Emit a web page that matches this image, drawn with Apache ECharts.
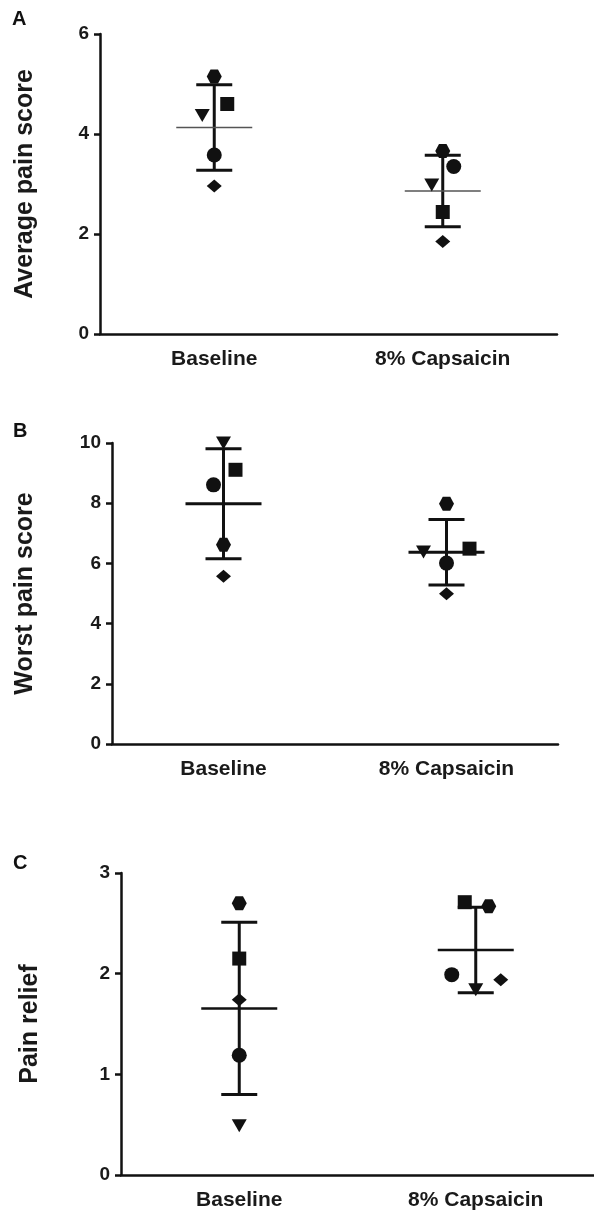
<!DOCTYPE html>
<html>
<head>
<meta charset="utf-8">
<script src="https://cdn.jsdelivr.net/npm/echarts@6/dist/echarts.min.js"></script>
<style>
  html, body { margin: 0; padding: 0; background: #fff; }
  #main { width: 594px; height: 1214px; }
</style>
</head>
<body>
<div id="main"></div>
<script>
// x categories
var groups = ['Baseline', '8% Capsaicin'];

// A - average pain score, one array per subject symbol: [Baseline, 8% Capsaicin]
var avgCircle = [3.58, 3.35];
var avgSquare = [4.6, 2.44];
var avgTriangle = [4.37, 2.98];
var avgHexagon = [5.15, 3.66];
var avgDiamond = [2.96, 1.85];
var avgMean = [4.13, 2.86];
var avgSd = [0.855, 0.715];

// B - worst pain score
var worstCircle = [8.61, 6.01];
var worstSquare = [9.11, 6.49];
var worstTriangle = [10.0, 6.38];
var worstHexagon = [6.62, 7.98];
var worstDiamond = [5.57, 4.99];
var worstMean = [7.98, 6.37];
var worstSd = [1.825, 1.09];

// C - pain relief
var reliefCircle = [1.19, 1.99];
var reliefSquare = [2.15, 2.71];
var reliefTriangle = [0.49, 1.84];
var reliefHexagon = [2.7, 2.67];
var reliefDiamond = [1.74, 1.94];
var reliefMean = [1.655, 2.235];
var reliefSd = [0.855, 0.425];

var FONT = 'Liberation Sans, Arial, Helvetica, sans-serif';
var INK = '#111';

// symbol shapes shared by the three panels
var shapes = {
    circle: { symbol: 'circle', size: 15 },
    square: { symbol: 'rect', size: 14 },
    triangle: { symbol: 'triangle', size: [15, 13], rotate: 180 },
    hexagon: { symbol: 'path://M-1,0L-0.5,-0.87L0.5,-0.87L1,0L0.5,0.87L-0.5,0.87Z', size: [15, 14] },
    diamond: { symbol: 'diamond', size: [15, 13] }
};

// horizontal dodge (px) of overlapping markers, [Baseline, 8% Capsaicin]
var dodgeA = { circle: [0, 11], square: [13, 0], triangle: [-12, -11], hexagon: [0, 0], diamond: [0, 0] };
var dodgeB = { circle: [-10, 0], square: [12, 23], triangle: [0, -23], hexagon: [0, 0], diamond: [0, 0] };
var dodgeC = { circle: [0, -24], square: [0, -11], triangle: [0, 0], hexagon: [0, 13], diamond: [0, 25] };

function meanSdRenderer(meanWidth, meanColor) {
    return function (params, api) {
        var i = api.value(0), m = api.value(1), sd = api.value(2);
        var mid = api.coord([i, m]);
        var hi = api.coord([i, m + sd]);
        var lo = api.coord([i, m - sd]);
        var ink = { stroke: INK, lineWidth: 3 };
        return {
            type: 'group',
            children: [
                { type: 'line', shape: { x1: mid[0], y1: hi[1], x2: mid[0], y2: lo[1] }, style: ink },
                { type: 'line', shape: { x1: mid[0] - 18, y1: hi[1], x2: mid[0] + 18, y2: hi[1] }, style: ink },
                { type: 'line', shape: { x1: mid[0] - 18, y1: lo[1], x2: mid[0] + 18, y2: lo[1] }, style: ink },
                { type: 'line', shape: { x1: mid[0] - 38, y1: mid[1], x2: mid[0] + 38, y2: mid[1] },
                  style: { stroke: meanColor, lineWidth: meanWidth } }
            ]
        };
    };
}

function panelSeries(idx, subjects, dodge, mean, sd, meanWidth, meanColor) {
    var out = [{
        type: 'custom',
        xAxisIndex: idx,
        yAxisIndex: idx,
        renderItem: meanSdRenderer(meanWidth, meanColor),
        data: mean.map(function (m, i) { return [i, m, sd[i]]; }),
        encode: { x: 0, y: 1 },
        z: 2
    }];
    Object.keys(subjects).forEach(function (key) {
        var s = shapes[key];
        out.push({
            type: 'scatter',
            xAxisIndex: idx,
            yAxisIndex: idx,
            symbol: s.symbol,
            symbolSize: s.size,
            symbolRotate: s.rotate || 0,
            itemStyle: { color: INK, opacity: 1 },
            data: subjects[key].map(function (v, i) {
                return { value: [i, v], symbolOffset: [dodge[key][i], 0] };
            }),
            z: 3
        });
    });
    return out;
}

function xAxisFor(idx) {
    return {
        type: 'category',
        gridIndex: idx,
        data: groups,
        boundaryGap: true,
        axisLine: { lineStyle: { color: INK, width: 2.5 } },
        axisTick: { alignWithLabel: true, length: 5, lineStyle: { color: INK, width: 3 } },
        axisLabel: { color: '#1a1a1a', fontFamily: FONT, fontWeight: 'bold', fontSize: 21, margin: 15 },
        splitLine: { show: false }
    };
}

function yAxisFor(idx, name, max, interval, gap) {
    return {
        type: 'value',
        gridIndex: idx,
        min: 0,
        max: max,
        interval: interval,
        name: name,
        nameLocation: 'middle',
        nameRotate: 90,
        nameGap: gap,
        nameTextStyle: { color: '#1a1a1a', fontFamily: FONT, fontWeight: 'bold', fontSize: 25 },
        axisLine: { show: true, lineStyle: { color: INK, width: 2.5 } },
        axisTick: { show: true, length: 6, lineStyle: { color: INK, width: 2.5 } },
        axisLabel: { color: '#1a1a1a', fontFamily: FONT, fontWeight: 'bold', fontSize: 19, margin: 11 },
        splitLine: { show: false }
    };
}

var chart = echarts.init(document.getElementById('main'), null, { renderer: 'canvas' });

var option = {
    backgroundColor: '#fff',
    animation: false,
    grid: [
        { left: 100, top: 34, width: 457, height: 300 },
        { left: 112, top: 443, width: 446, height: 301 },
        { left: 121, top: 873, width: 476, height: 302 }
    ],
    xAxis: [xAxisFor(0), xAxisFor(1), xAxisFor(2)],
    yAxis: [
        yAxisFor(0, 'Average pain score', 6, 2, 62),
        yAxisFor(1, 'Worst pain score', 10, 2, 74),
        yAxisFor(2, 'Pain relief', 3, 1, 78)
    ],
    graphic: [
        { type: 'text', left: 12, top: 9, style: { text: 'A', font: 'bold 20px ' + FONT, fill: INK } },
        { type: 'text', left: 13, top: 421, style: { text: 'B', font: 'bold 20px ' + FONT, fill: INK } },
        { type: 'text', left: 13, top: 853, style: { text: 'C', font: 'bold 20px ' + FONT, fill: INK } }
    ],
    series: [].concat(
        panelSeries(0, { circle: avgCircle, square: avgSquare, triangle: avgTriangle, hexagon: avgHexagon, diamond: avgDiamond },
            dodgeA, avgMean, avgSd, 1.5, '#555'),
        panelSeries(1, { circle: worstCircle, square: worstSquare, triangle: worstTriangle, hexagon: worstHexagon, diamond: worstDiamond },
            dodgeB, worstMean, worstSd, 3, INK),
        panelSeries(2, { circle: reliefCircle, square: reliefSquare, triangle: reliefTriangle, hexagon: reliefHexagon, diamond: reliefDiamond },
            dodgeC, reliefMean, reliefSd, 2.5, INK)
    )
};

chart.setOption(option);
</script>
</body>
</html>
